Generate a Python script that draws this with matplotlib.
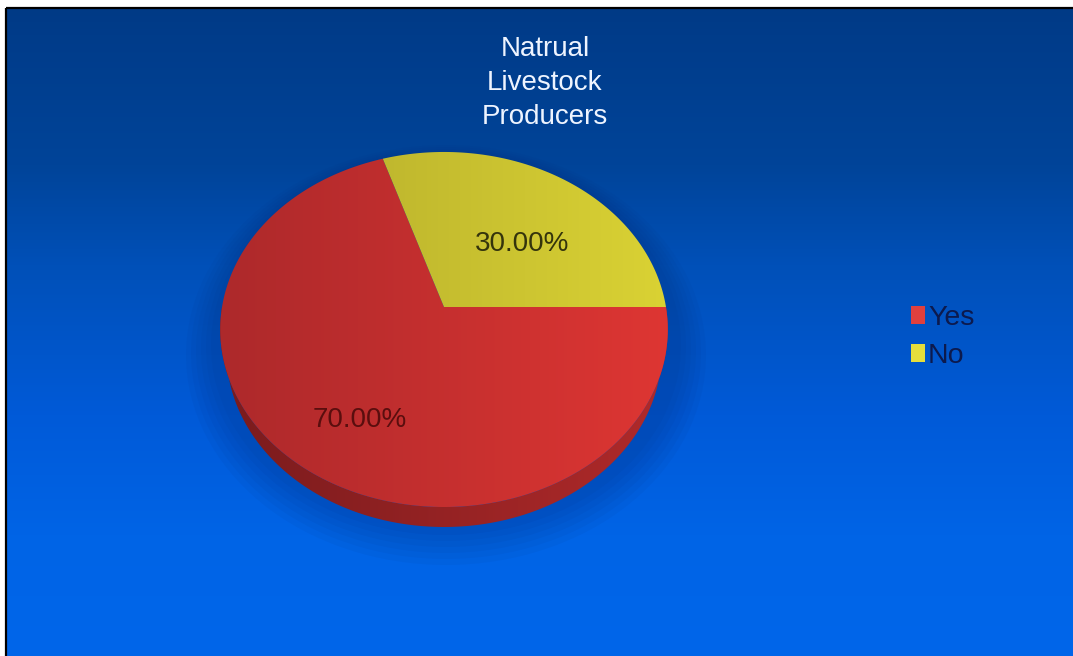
import numpy as np
import matplotlib.pyplot as plt
from matplotlib.patches import Polygon, Patch, Ellipse
from matplotlib.colors import LinearSegmentedColormap, to_rgb

plt.rcParams['font.family'] = ['Liberation Sans', 'DejaVu Sans']

# ------------------------------------------------------------
# data
# ------------------------------------------------------------
labels = ["Yes", "No"]
values = [70, 30]
title = "Natrual\nLivestock\nProducers"

top_cols = {"Yes": ("#ad292b", "#de3633"), "No": ("#c0b82e", "#dad234")}
side_cols = ("#7a1b1d", "#b02a2a")
text_cols = {"Yes": "#5a0e0e", "No": "#34340c"}
legend_cols = {"Yes": "#e0403e", "No": "#e6de3c"}

# ------------------------------------------------------------
# simple perspective view of a flat disc
# ------------------------------------------------------------
cx, cy = 444, 307
elev = np.radians(51.9)
D, S, H = 4.87, 1081.0, 0.172
se, ce = np.sin(elev), np.cos(elev)


def proj(u, v, z=0.0):
    depth = D + v * ce - z * se
    up = v * se + z * ce
    return cx + S * u / depth, cy - S * up / depth


def arc(t0, t1, z=0.0, r=1.0, n=200):
    t = np.radians(np.linspace(t0, t1, n))
    return np.column_stack(proj(r * np.cos(t), r * np.sin(t), z))


fig = plt.figure(figsize=(10.73, 6.56), dpi=100)
fig.patch.set_facecolor("white")
ax = fig.add_axes([0, 0, 1, 1])
ax.set_xlim(0, 1073)
ax.set_ylim(656, 0)
ax.axis("off")

# background gradient
stops_y = [9, 35, 165, 265, 415, 535, 656]
stops_c = ["#003a86", "#003c8a", "#004499", "#0050b8", "#005ad8", "#0064e6", "#0066ea"]
ys = np.arange(9, 656)
rgb = np.array([to_rgb(c) for c in stops_c])
col = np.column_stack([np.interp(ys, stops_y, rgb[:, i]) for i in range(3)])
ax.imshow(col[:, None, :], extent=(7, 1073, 656, 9), aspect="auto", zorder=0)
ax.plot([6, 6], [8, 656], color="black", lw=1.6, zorder=1, solid_capstyle="butt")
ax.plot([6, 1073], [8, 8], color="black", lw=1.6, zorder=1, solid_capstyle="butt")

# soft shadow below the pie
for k in range(6):
    ax.add_patch(Ellipse((446, 345 + 2 * k), 470 + 10 * k, 380 + 8 * k,
                         color="#002a70", alpha=0.05, lw=0, zorder=1))


def grad_fill(poly, c0, c1, z):
    xs = poly.get_xy()[:, 0]
    yy = poly.get_xy()[:, 1]
    cmap = LinearSegmentedColormap.from_list("g", [c0, c1])
    im = ax.imshow(np.linspace(0, 1, 256)[None, :], cmap=cmap, aspect="auto",
                   extent=(xs.min(), xs.max(), yy.max(), yy.min()), zorder=z)
    ax.add_patch(poly)
    im.set_clip_path(poly)


# slices go clockwise from 3 o'clock
total = sum(values)
angles = [0.0]
for v in values:
    angles.append(angles[-1] - 360.0 * v / total)

# side wall (front half only)
for lab, a0, a1 in zip(labels, angles[:-1], angles[1:]):
    lo, hi = max(a1, -180.0), min(a0, 0.0)
    if hi <= lo:
        continue
    pts = np.vstack([arc(lo, hi), arc(hi, lo, z=-H)])
    grad_fill(Polygon(pts, closed=True, fc="none", ec="none"), *side_cols, 2)

# top surface
for lab, a0, a1 in zip(labels, angles[:-1], angles[1:]):
    pts = np.vstack([[proj(0, 0)], arc(a0, a1)])
    grad_fill(Polygon(pts, closed=True, fc="none", ec="none"), *top_cols[lab], 3)

    mid = np.radians((a0 + a1) / 2)
    lx, ly = proj(0.62 * np.cos(mid), 0.62 * np.sin(mid))
    pct = 100.0 * values[labels.index(lab)] / total
    ax.text(lx + 2, ly + 19, f"{pct:.2f}%", ha="center", va="center",
            fontsize=20, color=text_cols[lab], zorder=5)

# title
ax.text(545, 83, title, ha="center", va="center", fontsize=20,
        color="#eef4ff", linespacing=1.4, zorder=5)

# legend
handles = [Patch(facecolor=legend_cols[l], edgecolor="none") for l in labels]
leg = ax.legend(handles, labels, loc="center left",
                bbox_to_anchor=(911, 337), bbox_transform=ax.transData,
                frameon=False, fontsize=20.5, handlelength=0.5, handleheight=0.6,
                handletextpad=0.1, labelspacing=0.45, borderpad=0,
                borderaxespad=0)
for t in leg.get_texts():
    t.set_color("#0c1a4e")

fig.savefig("out.png", dpi=100, facecolor=fig.get_facecolor())
